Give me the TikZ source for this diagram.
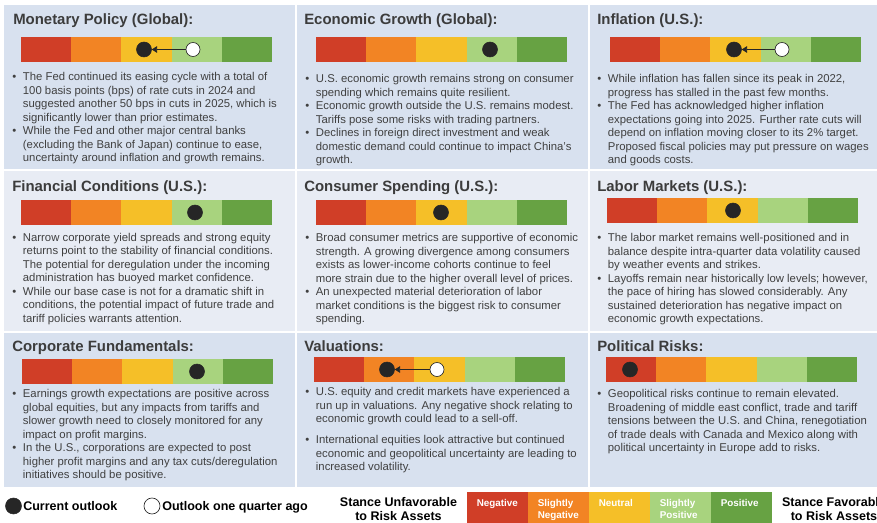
\documentclass[tikz,border=0pt]{standalone}
\usepackage{fontspec}
\setmainfont{Liberation Sans}
\usetikzlibrary{arrows.meta}

\definecolor{rowa}{HTML}{D8E1EF}
\definecolor{rowb}{HTML}{E8ECF4}
\definecolor{negc}{HTML}{D03E27}
\definecolor{snegc}{HTML}{F28424}
\definecolor{neuc}{HTML}{F5BF28}
\definecolor{sposc}{HTML}{A8D37E}
\definecolor{posc}{HTML}{67A243}
\definecolor{inkc}{HTML}{262626}
\definecolor{txtc}{HTML}{404040}

\newcommand{\bul}{\rule{0pt}{7pt}\makebox[8pt][l]{\textbullet}}
\newcommand{\ind}{\hspace*{8pt}}

\tikzset{
  ptitle/.style={anchor=base west, inner sep=0pt, text=inkc!90, font=\fontsize{11.2}{13}\selectfont\bfseries},
  pbody/.style={anchor=north west, inner sep=0pt, align=left, text=txtc, font=\fontsize{8.5}{10.1}\selectfont},
  nowdot/.style={circle, inner sep=0pt, minimum size=11.25pt, fill=inkc, draw=inkc},
  agodot/.style={circle, inner sep=0pt, minimum size=10.5pt, fill=white, draw=inkc, line width=0.5pt},
  moved/.style={draw=inkc, line width=0.6pt, -{Triangle[length=4pt,width=5pt]}},
  keytxt/.style={inner sep=0pt, text=black, font=\fontsize{9.4}{10.5}\selectfont\bfseries},
  segtxt/.style={anchor=north west, inner sep=0pt, align=left, text=white, font=\fontsize{7.4}{9}\selectfont\bfseries},
}

\begin{document}
\begin{tikzpicture}[x=0.75pt, y=-0.75pt]
	\def \seg {50.2}
	\def \bh {25}
	
	\useasboundingbox (0,0) rectangle (877,523);
	\clip (0,0) rectangle (877,523);
	\fill[white] (0,0) rectangle (877,523);
	
	%panel backgrounds
	\foreach \px/\pw in {4/291, 297/291, 590/287} {
		\fill[rowa] (\px,5) rectangle +(\pw,164);
		\fill[rowb] (\px,171) rectangle +(\pw,160);
		\fill[rowa] (\px,333) rectangle +(\pw,154);
	}
	
	%stance bars
	\foreach \bx/\by in {21/37, 316/37, 610/37, 21/200, 316/200, 607/198, 22/359, 314/357, 606/357}
		\foreach \c [count=\i from 0] in {negc, snegc, neuc, sposc, posc}
			\fill[\c] ({\bx+\i*\seg},\by) rectangle +(\seg,\bh);
	
	%titles
	\node[ptitle] (t1) at (13,25) {Monetary Policy (Global):};
	\node[ptitle] (t2) at (304,25) {Economic Growth (Global):};
	\node[ptitle] (t3) at (597,25) {Inflation (U.S.):};
	\node[ptitle] (t4) at (12,191.5) {Financial Conditions (U.S.):};
	\node[ptitle] (t5) at (304,191.5) {Consumer Spending (U.S.):};
	\node[ptitle] (t6) at (597,191.5) {Labor Markets (U.S.):};
	\node[ptitle] (t7) at (12,351.5) {Corporate Fundamentals:};
	\node[ptitle] (t8) at (304,351.5) {Valuations:};
	\node[ptitle] (t9) at (597,351.5) {Political Risks:};
	
	%current and previous outlook
	\node[nowdot] (now1) at (144,49.5) {};
	\node[agodot] (ago1) at (193,49.5) {};
	\draw[moved] (ago1) -- (now1);
	\node[nowdot] (now2) at (490,49.5) {};
	\node[nowdot] (now3) at (734,49.5) {};
	\node[agodot] (ago3) at (782,49.5) {};
	\draw[moved] (ago3) -- (now3);
	\node[nowdot] (now4) at (195,212.5) {};
	\node[nowdot] (now5) at (441,212.5) {};
	\node[nowdot] (now6) at (733,210.5) {};
	\node[nowdot] (now7) at (197,371.5) {};
	\node[nowdot] (now8) at (387,369.5) {};
	\node[agodot] (ago8) at (437,369.5) {};
	\draw[moved] (ago8) -- (now8);
	\node[nowdot] (now9) at (630,369.5) {};
	
	%bullet texts
	\node[pbody] (b1) at (12,71.2) {\bul The Fed continued its easing cycle with a total of\\
		\ind 100 basis points (bps) of rate cuts in 2024 and\\
		\ind suggested another 50 bps in cuts in 2025, which is\\
		\ind significantly lower than prior estimates.\\
		\bul While the Fed and other major central banks\\
		\ind (excluding the Bank of Japan) continue to ease,\\
		\ind uncertainty around inflation and growth remains.};
	\node[pbody] (b2) at (305,73.2) {\bul U.S. economic growth remains strong on consumer\\
		\ind spending which remains quite resilient.\\
		\bul Economic growth outside the U.S. remains modest.\\
		\ind Tariffs pose some risks with trading partners.\\
		\bul Declines in foreign direct investment and weak\\
		\ind domestic demand could continue to impact China's\\
		\ind growth.};
	\node[pbody] (b3) at (597,73.2) {\bul While inflation has fallen since its peak in 2022,\\
		\ind progress has stalled in the past few months.\\
		\bul The Fed has acknowledged higher inflation\\
		\ind expectations going into 2025. Further rate cuts will\\
		\ind depend on inflation moving closer to its 2\% target.\\
		\ind Proposed fiscal policies may put pressure on wages\\
		\ind and goods costs.};
	\node[pbody] (b4) at (12,231.7) {\bul Narrow corporate yield spreads and strong equity\\
		\ind returns point to the stability of financial conditions.\\
		\ind The potential for deregulation under the incoming\\
		\ind administration has buoyed market confidence.\\
		\bul While our base case is not for a dramatic shift in\\
		\ind conditions, the potential impact of future trade and\\
		\ind tariff policies warrants attention.};
	\node[pbody] (b5) at (305,232.2) {\bul Broad consumer metrics are supportive of economic\\
		\ind strength. A growing divergence among consumers\\
		\ind exists as lower-income cohorts continue to feel\\
		\ind more strain due to the higher overall level of prices.\\
		\bul An unexpected material deterioration of labor\\
		\ind market conditions is the biggest risk to consumer\\
		\ind spending.};
	\node[pbody] (b6) at (597,232.2) {\bul The labor market remains well-positioned and in\\
		\ind balance despite intra-quarter data volatility caused\\
		\ind by weather events and strikes.\\
		\bul Layoffs remain near historically low levels; however,\\
		\ind the pace of hiring has slowed considerably. Any\\
		\ind sustained deterioration has negative impact on\\
		\ind economic growth expectations.};
	\node[pbody] (b7) at (12,388.2) {\bul Earnings growth expectations are positive across\\
		\ind global equities, but any impacts from tariffs and\\
		\ind slower growth need to closely monitored for any\\
		\ind impact on profit margins.\\
		\bul In the U.S., corporations are expected to post\\
		\ind higher profit margins and any tax cuts/deregulation\\
		\ind initiatives should be positive.};
	\node[pbody] (b8) at (305,386.2) {\bul U.S. equity and credit markets have experienced a\\
		\ind run up in valuations. Any negative shock relating to\\
		\ind economic growth could lead to a sell-off.\\[5.6pt]
		\bul International equities look attractive but continued\\
		\ind economic and geopolitical uncertainty are leading to\\
		\ind increased volatility.};
	\node[pbody] (b9) at (597,388.2) {\bul Geopolitical risks continue to remain elevated.\\
		\ind Broadening of middle east conflict, trade and tariff\\
		\ind tensions between the U.S. and China, renegotiation\\
		\ind of trade deals with Canada and Mexico along with\\
		\ind political uncertainty in Europe add to risks.};
	
	%legend
	\node[nowdot, minimum size=12pt] (keynow) at (13.5,506) {};
	\node[keytxt, anchor=west] (keynowtxt) at (23,506) {Current outlook};
	\node[agodot, minimum size=12pt] (keyago) at (152,506) {};
	\node[keytxt, anchor=base west] (keyagotxt) at (162,510.5) {Outlook one quarter ago};
	\node[keytxt, align=center, anchor=north] (unfav) at (398.5,495.3) {\rule{0pt}{8pt}Stance Unfavorable\\to Risk Assets};
	\node[keytxt, align=center, anchor=north] (fav) at (834,495.3) {\rule{0pt}{8pt}Stance Favorable\\to Risk Assets};
	
	\foreach \c [count=\i from 0] in {negc, snegc, neuc, sposc, posc}
		\fill[\c] ({467+\i*61},492) rectangle +(61,40);
	\node[segtxt] (lneg) at (476.5,497.8) {\rule{0pt}{6.5pt}Negative};
	\node[segtxt] (lsneg) at (537.5,497.8) {\rule{0pt}{6.5pt}Slightly\\Negative};
	\node[segtxt] (lneu) at (598.5,497.8) {\rule{0pt}{6.5pt}Neutral};
	\node[segtxt] (lspos) at (659.5,497.8) {\rule{0pt}{6.5pt}Slightly\\Positive};
	\node[segtxt] (lpos) at (720.5,497.8) {\rule{0pt}{6.5pt}Positive};
\end{tikzpicture}
\end{document}
